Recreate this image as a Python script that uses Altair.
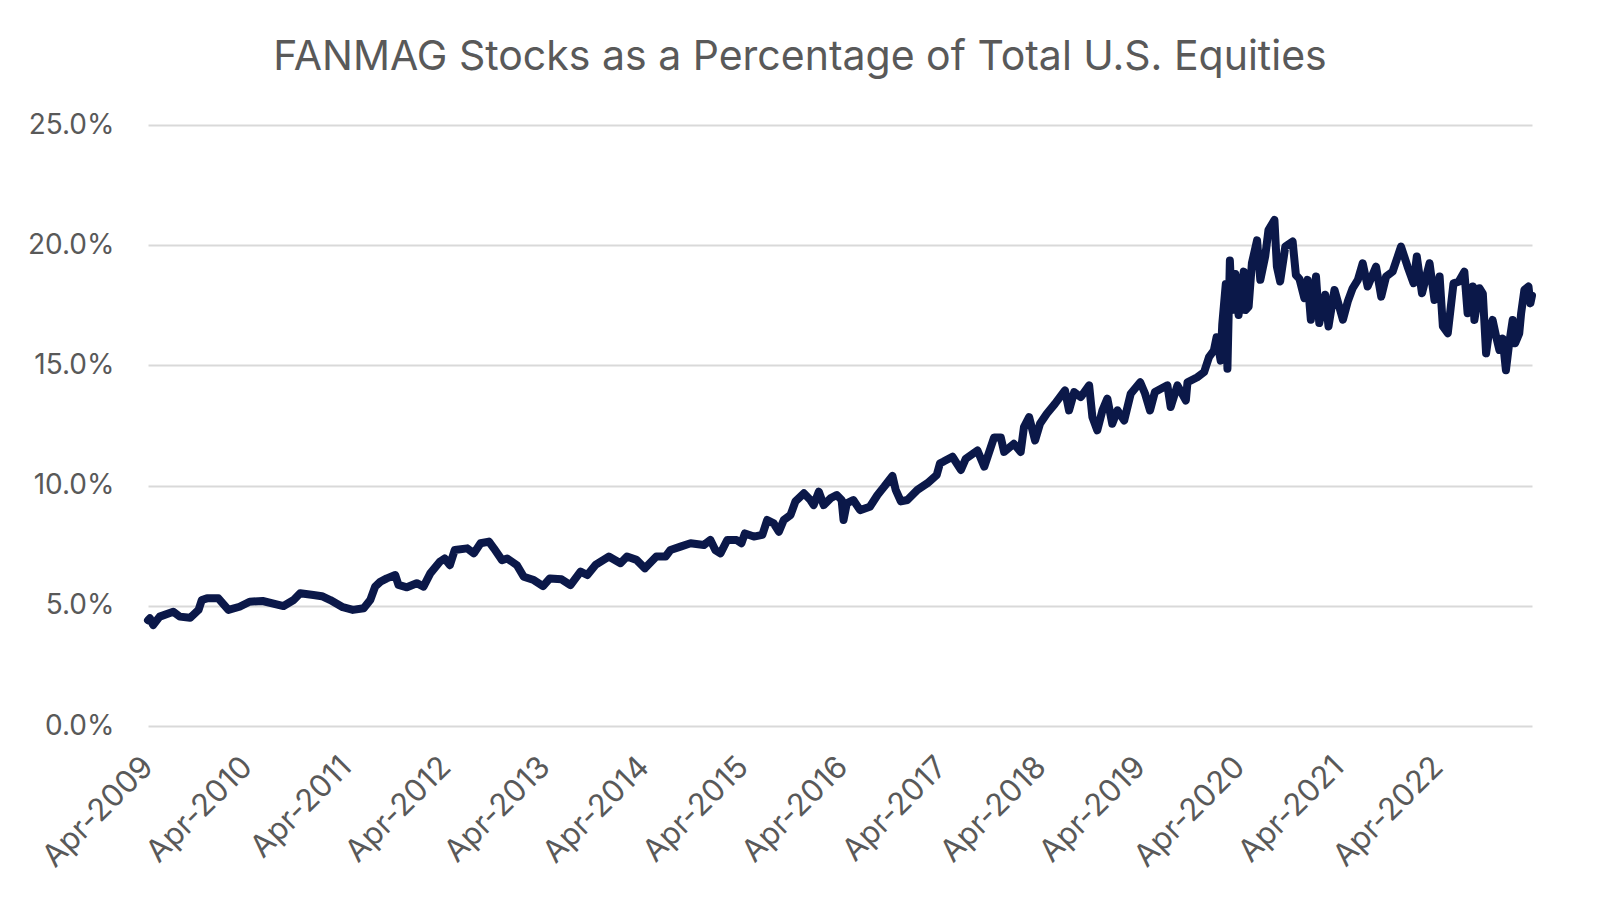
import altair as alt
import pandas as pd

dates = [
    "2009-04-01", "2009-04-08", "2009-04-20", "2009-05-14", "2009-07-03", "2009-07-27",
    "2009-09-03", "2009-10-04", "2009-10-16", "2009-11-04", "2009-12-16", "2010-01-22",
    "2010-03-04", "2010-04-10", "2010-05-28", "2010-08-13", "2010-09-19", "2010-10-13",
    "2010-12-01", "2011-01-01", "2011-02-01", "2011-03-19", "2011-04-25", "2011-06-04",
    "2011-06-28", "2011-07-16", "2011-08-04", "2011-08-28", "2011-09-28", "2011-10-10",
    "2011-11-10", "2011-12-16", "2012-01-10", "2012-02-04", "2012-03-10", "2012-03-28",
    "2012-04-16", "2012-05-04", "2012-06-19", "2012-07-13", "2012-08-07", "2012-09-07",
    "2012-09-25", "2012-10-25", "2012-11-13", "2012-12-19", "2013-01-13", "2013-02-19",
    "2013-03-25", "2013-04-19", "2013-06-01", "2013-07-04", "2013-08-10", "2013-09-04",
    "2013-10-04", "2013-11-22", "2014-01-04", "2014-01-28", "2014-03-04", "2014-04-04",
    "2014-05-16", "2014-06-19", "2014-07-07", "2014-08-13", "2014-09-19", "2014-11-07",
    "2014-12-01", "2014-12-19", "2015-01-07", "2015-02-01", "2015-03-07", "2015-03-25",
    "2015-04-07", "2015-05-10", "2015-06-10", "2015-06-28", "2015-07-22", "2015-08-10",
    "2015-08-28", "2015-09-22", "2015-10-10", "2015-11-10", "2015-12-04", "2015-12-16",
    "2016-01-04", "2016-01-22", "2016-02-16", "2016-03-10", "2016-03-28", "2016-04-04",
    "2016-04-16", "2016-05-10", "2016-06-04", "2016-07-10", "2016-08-07", "2016-09-01",
    "2016-10-01", "2016-10-13", "2016-11-01", "2016-11-25", "2017-01-01", "2017-02-07",
    "2017-03-13", "2017-03-25", "2017-04-07", "2017-05-10", "2017-06-10", "2017-06-28",
    "2017-08-10", "2017-09-04", "2017-10-10", "2017-11-04", "2017-11-16", "2017-12-22",
    "2018-01-16", "2018-01-28", "2018-02-16", "2018-03-10", "2018-03-28", "2018-04-22",
    "2018-05-22", "2018-06-28", "2018-07-13", "2018-08-01", "2018-08-25", "2018-09-25",
    "2018-10-07", "2018-10-25", "2018-11-13", "2018-12-01", "2018-12-19", "2019-01-07",
    "2019-02-01", "2019-02-25", "2019-04-01", "2019-04-19", "2019-05-07", "2019-05-25",
    "2019-07-10", "2019-07-22", "2019-08-16", "2019-09-16", "2019-09-22", "2019-10-28",
    "2019-11-22", "2019-12-10", "2019-12-28", "2020-01-07", "2020-01-22", "2020-01-28",
    "2020-02-10", "2020-02-16", "2020-02-25", "2020-03-04", "2020-03-16", "2020-03-28",
    "2020-04-16", "2020-04-22", "2020-05-04", "2020-05-16", "2020-06-04", "2020-06-16",
    "2020-07-04", "2020-07-16", "2020-08-07", "2020-08-16", "2020-08-28", "2020-09-16",
    "2020-10-13", "2020-10-25", "2020-11-07", "2020-11-25", "2020-12-07", "2020-12-19",
    "2021-01-07", "2021-01-19",
    "2021-02-10", "2021-02-22", "2021-03-16", "2021-04-16", "2021-05-04", "2021-05-22",
    "2021-06-10", "2021-06-28", "2021-07-16", "2021-08-16", "2021-09-04", "2021-09-22",
    "2021-10-16", "2021-11-16", "2021-12-10", "2022-01-01", "2022-01-13", "2022-02-01",
    "2022-03-01", "2022-03-19", "2022-04-07", "2022-04-19", "2022-05-07", "2022-05-28",
    "2022-06-16", "2022-07-07", "2022-07-19", "2022-08-07", "2022-08-13", "2022-09-01",
    "2022-09-13", "2022-09-25", "2022-10-07", "2022-10-19", "2022-11-01", "2022-11-13",
    "2022-11-25", "2022-12-07", "2022-12-19", "2023-01-01", "2023-01-10", "2023-01-25",
    "2023-02-01", "2023-02-13", "2023-02-28", "2023-03-07", "2023-03-13",
]

share_pct = [
    4.40, 4.48, 4.20, 4.55, 4.75, 4.55,
    4.50, 4.83, 5.24, 5.31, 5.31, 4.83,
    4.96, 5.17, 5.20, 4.99, 5.24, 5.52,
    5.45, 5.40, 5.24, 4.94, 4.83, 4.90,
    5.24, 5.80, 6.00, 6.14, 6.28, 5.87,
    5.77, 5.94, 5.80, 6.35, 6.83, 6.97,
    6.69, 7.32, 7.39, 7.18, 7.60, 7.67,
    7.39, 6.90, 6.97, 6.69, 6.21, 6.07,
    5.82, 6.14, 6.10, 5.86, 6.42, 6.28,
    6.70, 7.05, 6.77, 7.05, 6.91, 6.56,
    7.05, 7.05, 7.32, 7.46, 7.60, 7.53,
    7.74, 7.32, 7.18, 7.74, 7.74, 7.60,
    8.01, 7.88, 7.95, 8.57, 8.43, 8.08,
    8.57, 8.78, 9.34, 9.68, 9.40, 9.19,
    9.75, 9.19, 9.47, 9.61, 9.40, 8.57,
    9.26, 9.40, 8.98, 9.12, 9.61, 9.96,
    10.40, 9.82, 9.34, 9.40, 9.82, 10.10,
    10.44, 10.93, 11.00, 11.20, 10.65, 11.12,
    11.46, 10.79, 12.00, 12.00, 11.40, 11.74,
    11.40, 12.43, 12.85, 11.88, 12.57, 12.99,
    13.40, 13.96, 13.13, 13.89, 13.68, 14.17,
    12.85, 12.30, 13.13, 13.62, 12.57, 13.13,
    12.71, 13.82, 14.30, 13.82, 13.13, 13.89,
    14.17, 13.27, 14.17, 13.54, 14.30, 14.51,
    14.72, 15.34, 15.62, 16.17, 15.20, 16.72,
    18.39, 14.86, 19.36, 17.30, 18.80, 17.10,
    18.90, 17.30, 17.44, 19.25, 20.20, 18.56,
    19.53, 20.63, 21.05, 19.11, 18.49, 19.94,
    20.15, 18.76, 18.60, 17.80, 18.56, 16.90,
    18.70, 16.76,
    17.94, 16.62, 18.14, 16.90, 17.66, 18.21,
    18.56, 19.25, 18.28, 19.11, 17.86, 18.70,
    18.90, 19.94, 19.11, 18.42, 19.53, 18.00,
    19.25, 17.72, 18.70, 16.62, 16.34, 18.41,
    18.48, 18.90, 17.17, 18.28, 16.89, 18.21,
    17.99, 15.50, 16.47, 16.89, 16.20, 15.64,
    16.12, 14.80, 15.92, 16.89, 15.92, 16.33,
    17.17, 18.14, 18.28, 17.58, 17.90,
]

tick_years = list(range(2009, 2023))
y_ticks = [0.0, 0.05, 0.10, 0.15, 0.20, 0.25]

df = pd.DataFrame({"date": pd.to_datetime(dates), "share": [v / 100 for v in share_pct]})

FONT = "Inter"
GREY = "#595959"

x_enc = alt.X(
    "date:T",
    scale=alt.Scale(domain=[dates[0], dates[-1]]),
    axis=alt.Axis(
        title=None,
        values=[alt.DateTime(year=y, month=4, date=1) for y in tick_years],
        format="%b-%Y",
        labelAngle=-45,
        labelAlign="right",
        labelBaseline="middle",
        labelFontSize=31,
        labelFont=FONT,
        labelColor=GREY,
        labelPadding=36,
        labelOverlap=False,
        labelBound=False,
        labelFlush=False,
        ticks=False,
        domain=False,
        grid=False,
    ),
)

y_enc = alt.Y(
    "share:Q",
    scale=alt.Scale(domain=[0, 0.25], nice=False),
    axis=alt.Axis(
        title=None,
        values=y_ticks,
        format=".1%",
        labelFontSize=28,
        labelFont=FONT,
        labelColor=GREY,
        labelPadding=34,
        ticks=False,
        domain=False,
        grid=True,
        gridColor="#d9d9d9",
        gridWidth=2,
    ),
)

chart = (
    alt.Chart(df)
    .mark_line(color="#0b1849", strokeWidth=8, strokeJoin="round", strokeCap="round")
    .encode(x=x_enc, y=y_enc)
    .properties(
        width=1384,
        height=601,
        autosize=alt.AutoSizeParams(type="none"),
        padding={"left": 140, "top": 117, "right": 40, "bottom": 160},
        title=alt.TitleParams(
            "FANMAG Stocks as a Percentage of Total U.S. Equities",
            font=FONT,
            fontSize=41,
            fontWeight="normal",
            color=GREY,
            anchor="middle",
            dx=-40,
            offset=32,
        ),
    )
    .configure_view(stroke=None)
)

chart.save("out.html", embed_options={"renderer": "svg", "actions": False})
